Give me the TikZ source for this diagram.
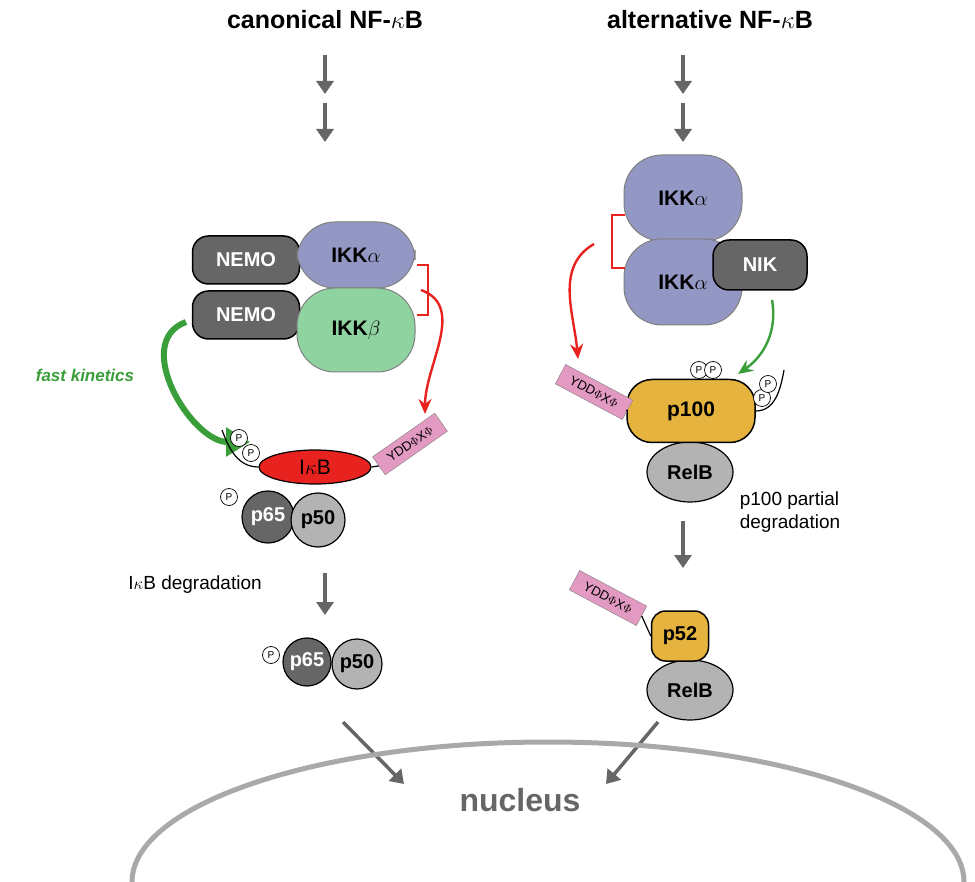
\documentclass[tikz,border=0pt]{standalone}
\usepackage{fontspec}
\setmainfont{Liberation Sans}
\usetikzlibrary{shapes.geometric,arrows.meta}
\definecolor{dgray}{HTML}{666666}
\definecolor{lgray}{HTML}{B3B3B3}
\definecolor{ikka}{HTML}{9397C4}
\definecolor{ikkb}{HTML}{8FD3A0}
\definecolor{ikbred}{HTML}{E8231F}
\definecolor{orng}{HTML}{E6B43E}
\definecolor{pink}{HTML}{E39AC2}
\definecolor{kgreen}{HTML}{3A9E3A}
\tikzset{
  steparr/.style={draw=dgray,line width=3.5pt,-{Triangle[length=13pt,width=17pt]}},
  nemo/.style={draw=black,line width=1.5pt,fill=dgray,rounded corners=16pt,minimum width=107pt,minimum height=48pt,text=white,font=\bfseries\fontsize{20}{20}\selectfont},
  ikk/.style={draw=gray,line width=1pt,rounded corners=38pt,minimum width=118pt,minimum height=66pt,font=\bfseries\fontsize{21}{21}\selectfont},
  blob/.style={circle,draw=black,line width=1.2pt,inner sep=0pt,font=\bfseries\fontsize{20}{20}\selectfont},
  phos/.style={circle,draw=black,fill=white,line width=.7pt,inner sep=0pt,minimum size=17pt,font=\fontsize{10}{10}\selectfont},
  motif/.style={draw=gray,fill=pink,minimum width=76pt,minimum height=22pt,inner sep=1pt,font=\fontsize{13}{13}\selectfont},
  lbl/.style={font=\fontsize{19}{23}\selectfont,align=left},
  redarr/.style={draw=ikbred,line width=2.4pt,-{Stealth[length=15pt,width=13pt]}},
  grnarr/.style={draw=kgreen,line width=2.4pt,-{Stealth[length=15pt,width=13pt]}}
}
\begin{document}
\begin{tikzpicture}[x=1pt,y=-1pt]
\useasboundingbox (0,0) rectangle (975,882);
% titles
\node[font=\bfseries\fontsize{25}{25}\selectfont] (t1) at (325,20) {canonical NF-$\kappa$B};
\node[font=\bfseries\fontsize{25}{25}\selectfont] (t2) at (710,20) {alternative NF-$\kappa$B};
\coordinate (a1) at (325,55); \coordinate (a2) at (325,94);
\coordinate (a3) at (325,103); \coordinate (a4) at (325,142);
\draw[steparr] (a1) -- (a2); \draw[steparr] (a3) -- (a4);
\coordinate (b1) at (683,55); \coordinate (b2) at (683,94);
\coordinate (b3) at (683,103); \coordinate (b4) at (683,142);
\draw[steparr] (b1) -- (b2); \draw[steparr] (b3) -- (b4);

% canonical IKK complex
\node[nemo] (n1) at (246,260) {NEMO};
\node[nemo] (n2) at (246,315) {NEMO};
\node[ikk,fill=ikka] (ka) at (356,255) {IKK$\alpha$};
\node[ikk,fill=ikkb,minimum height=84pt] (kb) at (356,330) {IKK$\beta$};
\draw[ikbred,line width=1.3pt] (417,265) -- (428,265) -- (428,315) -- (417,315);
\coordinate (r1) at (421,290); \coordinate (r2) at (425,414);
\draw[redarr] (r1) to[out=-20,in=90] (r2);
\coordinate (g1) at (186,322); \coordinate (g2) at (250,442);
\draw[draw=kgreen,line width=6pt,-{Triangle[length=24pt,width=28pt]}] (g1) to[out=200,in=180,looseness=1.1] (g2);
\node[text=kgreen,font=\itshape\bfseries\fontsize{17}{17}\selectfont\rmfamily] (fk) at (85,375) {fast kinetics};

% IkB complex
\node[blob,fill=dgray,text=white,minimum size=52pt] (p65) at (268,517) {p65};
\node[blob,fill=lgray,minimum size=54pt] (p50) at (318,520) {p50};
\node[ellipse,draw=black,line width=1.2pt,fill=ikbred,minimum width=112pt,minimum height=34pt,inner sep=0pt,font=\fontsize{21}{21}\selectfont] (ikb) at (315,467) {I$\kappa$B};
\node[phos] (pa) at (229,497) {P};
\coordinate (tl) at (222,430);
\draw[line width=1.2pt] (tl) to[out=-70,in=180] (ikb.west);
\node[phos] (pb) at (239,438) {P};
\node[phos] (pc) at (251,453) {P};
\node[motif,rotate=35] (m1) at (410,444) {YDD$\Phi$X$\Phi$};
\draw[line width=1.2pt] (ikb.east) -- (m1.west);
\node[lbl] (deg1) at (195,585) {I$\kappa$B degradation};
\coordinate (c1) at (325,573); \coordinate (c2) at (325,615);
\draw[steparr] (c1) -- (c2);
\node[blob,fill=dgray,text=white,minimum size=48pt] (q65) at (307,662) {p65};
\node[blob,fill=lgray,minimum size=50pt] (q50) at (357,664) {p50};
\node[phos] (qa) at (271,655) {P};

% alternative IKK complex
\node[ikk,fill=ikka,minimum height=86pt] (xa) at (683,198) {IKK$\alpha$};
\node[ikk,fill=ikka,minimum height=86pt] (xb) at (683,282) {IKK$\alpha$};
\node[nemo,minimum width=94pt,minimum height=50pt] (nik) at (760,265) {NIK};
\draw[ikbred,line width=1.3pt] (625,215) -- (612,215) -- (612,268) -- (625,268);
\coordinate (r3) at (594,244); \coordinate (r4) at (578,359);
\draw[redarr] (r3) to[out=210,in=95] (r4);
\coordinate (g3) at (772,300); \coordinate (g4) at (738,374);
\draw[grnarr] (g3) to[out=-80,in=35] (g4);

% p100
\node[blob,ellipse,fill=lgray,minimum width=86pt,minimum height=60pt] (relb1) at (690,472) {RelB};
\node[draw=black,line width=1.5pt,fill=orng,rounded corners=25pt,minimum width=128pt,minimum height=63pt,font=\bfseries\fontsize{21}{21}\selectfont] (p100) at (691,411) {p100};
\node[phos] (pd) at (699,370) {P};
\node[phos] (pe) at (713,370) {P};
\coordinate (tr) at (784,370);
\draw[line width=1.2pt] (p100.east) to[out=0,in=-100] (tr);
\node[phos] (pg) at (762,398) {P};
\node[phos] (pf) at (768,384) {P};
\node[motif,rotate=-28] (m2) at (594,392) {YDD$\Phi$X$\Phi$};
\draw[line width=1.2pt] (m2.east) -- (p100.west);
\coordinate (c3) at (683,521); \coordinate (c4) at (683,568);
\draw[steparr] (c3) -- (c4);
\node[lbl] (deg2) at (790,512) {p100 partial\\degradation};

% p52
\node[blob,ellipse,fill=lgray,minimum width=86pt,minimum height=60pt] (relb2) at (690,690) {RelB};
\node[draw=black,line width=1.5pt,fill=orng,rounded corners=14pt,minimum width=57pt,minimum height=50pt,font=\bfseries\fontsize{20}{20}\selectfont] (p52) at (680,636) {p52};
\node[motif,rotate=-28] (m3) at (608,598) {YDD$\Phi$X$\Phi$};
\draw[line width=1.2pt] (m3.east) -- (p52.west);

% nucleus
\coordinate (d1) at (343,722); \coordinate (d2) at (404,784);
\coordinate (d3) at (658,722); \coordinate (d4) at (606,784);
\draw[steparr] (d1) -- (d2); \draw[steparr] (d3) -- (d4);
\draw[lgray!80!gray,line width=5pt] (132,882) arc[start angle=180,end angle=360,x radius=416,y radius=140];
\node[text=dgray,font=\bfseries\fontsize{32}{32}\selectfont] (nuc) at (520,800) {nucleus};
\end{tikzpicture}
\end{document}
